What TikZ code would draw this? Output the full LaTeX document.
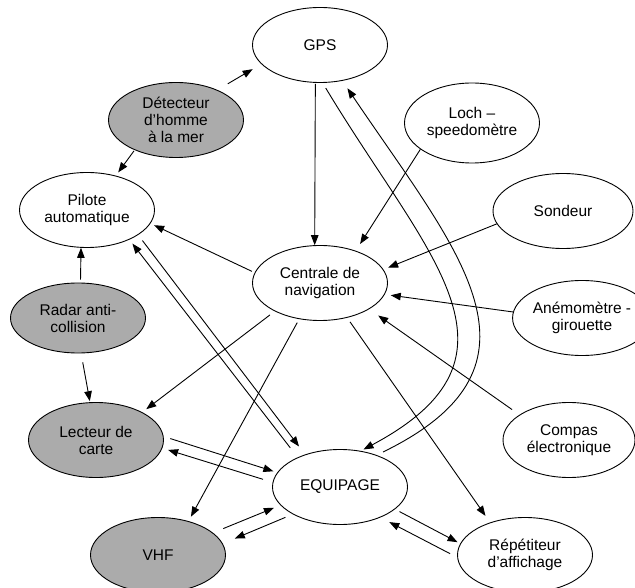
\documentclass[tikz,border=0pt]{standalone}
\usepackage{fontspec}
\setmainfont{Liberation Sans}
\usepackage{tikz}
\usetikzlibrary{arrows.meta,shapes.geometric}

\begin{document}
\begin{tikzpicture}[x=1pt, y=1pt, every node/.style={font={\fontsize{15.5}{17}\selectfont}}]
\tikzstyle{bubble}=[draw, ellipse, line width=0.9pt, minimum width=135pt, minimum height=75pt, inner sep=0pt, align=center]
\tikzstyle{dark}=[bubble, fill=black!33]
\tikzstyle{link}=[-{Triangle[length=10pt,width=7.5pt]}, line width=0.9pt]
\useasboundingbox (0,0) rectangle (635,-588);
% appareils
\node[bubble] (gps) at (320,-45) {GPS};
\node[dark] (det) at (176,-120) {Détecteur\\d’homme\\à la mer};
\node[bubble] (pil) at (87,-210) {Pilote\\automatique};
\node[bubble] (cen) at (320,-283) {Centrale de\\navigation};
\node[bubble, minimum height=80pt] (loch) at (472,-123) {Loch –\\speedomètre};
\node[bubble, minimum width=140pt] (son) at (563,-211) {Sondeur};
\node[bubble] (ane) at (582,-318) {Anémomètre -\\girouette};
\node[dark, minimum height=70pt] (rad) at (78,-318) {Radar anti-\\collision};
\node[dark] (lec) at (96,-440) {Lecteur de\\carte};
\node[bubble, minimum width=132pt] (com) at (569,-440) {Compas\\électronique};
\node[bubble] (eq) at (340,-487) {EQUIPAGE};
\node[dark] (vhf) at (158,-555) {VHF};
\node[bubble] (rep) at (525,-555) {Répétiteur\\d’affichage};
% liaisons
\draw[link, shorten <=12pt, shorten >=10pt] (det.36) -- (gps.198);
\draw[link, shorten <=1pt, shorten >=4pt] (det.216) -- (pil.50);
\draw[link, shorten <=1pt] (gps.-97) -- (cen.98);
\draw[link, shorten >=8pt] (loch.207) -- (cen.42);
\draw[link, shorten >=5pt] (son.191) -- (cen.12);
\draw[link, shorten >=6pt] (ane.175) -- (cen.-10);
\draw[link, shorten <=9pt, shorten >=11pt] (com.153) -- (cen.-28);
\draw[link, shorten <=3pt, shorten >=4pt] (cen.171) -- (pil.-12);
\draw[link, shorten <=6pt, shorten >=5pt] (cen.212) -- (lec.31);
\draw[link, shorten <=4pt, shorten >=5pt] (cen.240) -- (vhf.48);
\draw[link, shorten <=5pt, shorten >=8pt] (cen.-52) -- (rep.137);
\draw[link, shorten <=3pt] (rad.86) -- (pil.-99);
\draw[link, shorten <=9pt, shorten >=1pt] (rad.-85) -- (lec.99);
\draw[link, shorten <=7pt, shorten >=10pt] (pil.-26) -- (eq.137);
\draw[link, shorten <=12pt, shorten >=5pt] (eq.145) -- (pil.-35);
\draw[link, shorten <=6pt, shorten >=3pt] (gps.-86) to[out=-59, in=28, looseness=1.4] (eq.60);
\draw[link, shorten <=7pt, shorten >=9pt] (eq.41) to[out=26, in=-56, looseness=1.4] (gps.-58);
\draw[link, shorten <=7pt, shorten >=4pt] (lec.3) -- (eq.167);
\draw[link, shorten <=10pt, shorten >=6pt] (eq.176) -- (lec.-7);
\draw[link, shorten <=11pt, shorten >=7pt] (vhf.22) -- (eq.197);
\draw[link, shorten <=8pt, shorten >=13pt] (eq.210) -- (vhf.10);
\draw[link, shorten <=5pt, shorten >=3pt] (eq.-22) -- (rep.170);
\draw[link, shorten <=8pt, shorten >=10pt] (rep.182) -- (eq.-37);
\end{tikzpicture}
\end{document}
